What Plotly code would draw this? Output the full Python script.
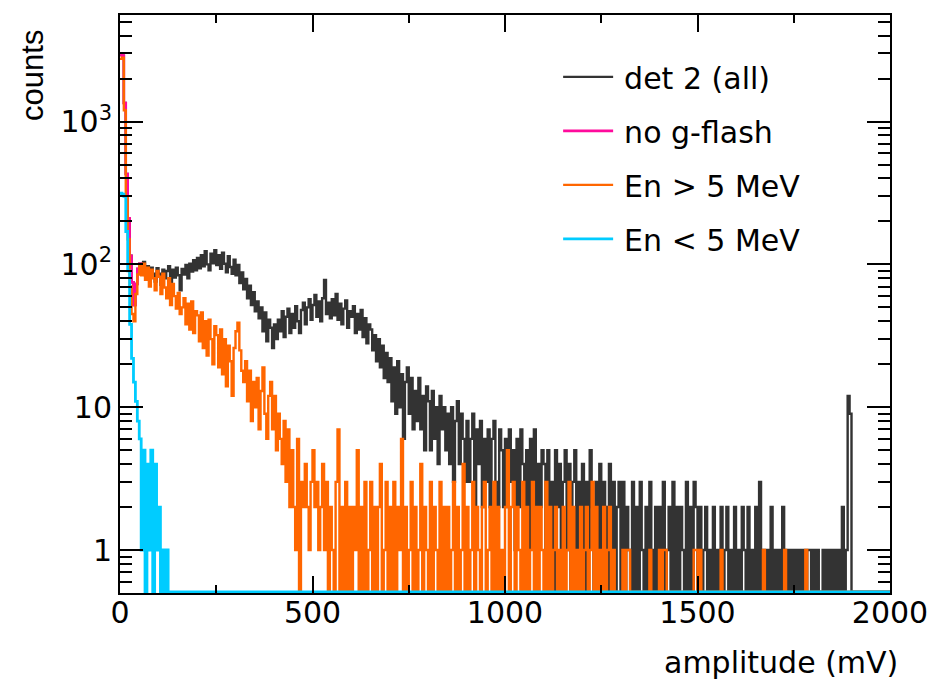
import math
import plotly.graph_objects as go

# ---------------- data (5 mV bins, 0 .. 2000 mV) ----------------
BIN_MV = 5

det2_all = [
    2950, 2900, 1350, 430, 210, 115, 75, 52, 73, 93,
    101, 95, 104, 84, 97, 79, 95, 86, 76, 94,
    86, 72, 92, 80, 90, 97, 74, 92, 81, 95,
    84, 66, 93, 85, 99, 80, 101, 89, 107, 91,
    111, 94, 116, 97, 124, 100, 91, 119, 102, 126,
    99, 116, 93, 121, 101, 88, 114, 96, 86, 108,
    84, 99, 74, 88, 67, 79, 58, 71, 52, 64,
    47, 55, 42, 50, 34, 46, 29, 41, 36, 26,
    38, 30, 41, 34, 47, 31, 43, 49, 33, 45,
    36, 51, 40, 33, 48, 54, 38, 50, 57, 41,
    52, 61, 43, 55, 40, 58, 78, 45, 54, 42,
    57, 44, 62, 41, 53, 38, 49, 56, 36, 47,
    43, 51, 33, 45, 35, 48, 31, 42, 28, 38,
    35, 25, 32, 21, 30, 19, 27, 16, 24, 15,
    22, 11, 19, 9, 21, 10, 17, 6, 15, 19,
    9, 16, 7, 13, 8, 16, 7, 12, 5, 14,
    11, 5, 13, 6, 10, 4, 12, 7, 10, 5,
    9, 4, 10, 3, 8, 11, 4, 9, 6, 3,
    8, 3, 6, 9, 2, 7, 4, 8, 2, 6,
    3, 7, 2, 6, 8, 3, 2, 7, 5, 2,
    6, 2, 7, 3, 5, 1, 6, 2, 7, 4,
    2, 5, 1, 6, 3, 7, 1, 4, 2, 5,
    4, 1, 5, 2, 3, 0, 5, 2, 4, 1,
    3, 5, 1, 4, 0, 3, 5, 1, 3, 2,
    4, 0, 3, 1, 5, 2, 0, 3, 1, 4,
    0, 3, 2, 0, 4, 1, 3, 0, 2, 3,
    0, 3, 0, 2, 1, 0, 3, 0, 2, 0,
    3, 1, 0, 2, 0, 3, 1, 0, 2, 0,
    2, 0, 3, 0, 1, 2, 0, 3, 0, 2,
    0, 2, 1, 0, 3, 0, 2, 0, 3, 2,
    0, 2, 0, 1, 2, 0, 1, 0, 2, 0,
    1, 0, 2, 0, 1, 2, 0, 1, 0, 2,
    0, 1, 0, 2, 1, 0, 2, 0, 1, 0,
    2, 0, 3, 0, 1, 0, 1, 0, 2, 0,
    1, 0, 1, 0, 2, 1, 0, 1, 0, 1,
    0, 1, 0, 1, 0, 1, 0, 1, 1, 0,
    1, 0, 1, 0, 0, 1, 0, 1, 0, 1,
    0, 1, 0, 1, 0, 2, 0, 1, 12, 9,
    0, 0, 0, 0, 0, 0, 0, 0, 0, 0,
    0, 0, 0, 0, 0, 0, 0, 0, 0, 0,
]

no_gflash = [2950, 2900, 1350, 430, 210, 115, 75, 52, 73, 93, 101, 95]

en_above_5 = [
    2750, 2800, 1200, 300, 150, 70, 45, 40, 62, 85,
    97, 84, 101, 78, 95, 70, 92, 80, 66, 90,
    82, 62, 86, 69, 58, 80, 52, 73, 60, 49,
    63, 45, 50, 58, 38, 53, 35, 55, 33, 47,
    44, 29, 46, 26, 40, 23, 41, 30, 20, 37,
    32, 19, 35, 17, 30, 14, 27, 21, 12, 26,
    34, 39, 25, 18, 15, 21, 11, 18, 8, 15,
    10, 16, 7, 13, 19, 9, 6, 12, 15, 7,
    12, 5, 9, 6, 4, 8, 3, 7, 2, 5,
    2, 1, 6, 0, 3, 2, 4, 2, 1, 3,
    5, 2, 3, 1, 2, 4, 1, 3, 0, 2,
    1, 0, 3, 7, 0, 2, 0, 3, 0, 2,
    0, 2, 1, 5, 0, 2, 0, 3, 0, 1,
    3, 0, 2, 0, 2, 4, 0, 1, 3, 0,
    2, 0, 3, 0, 2, 1, 6, 0, 2, 0,
    1, 3, 0, 2, 0, 1, 4, 0, 2, 1,
    0, 3, 0, 2, 1, 0, 3, 0, 2, 0,
    2, 0, 1, 3, 0, 2, 0, 1, 4, 0,
    2, 0, 1, 3, 0, 2, 1, 0, 2, 3,
    0, 1, 2, 0, 3, 0, 2, 0, 1, 0,
    2, 5, 0, 2, 3, 0, 2, 1, 0, 3,
    0, 2, 0, 1, 3, 0, 2, 0, 2, 1,
    0, 3, 0, 2, 0, 1, 2, 0, 1, 0,
    2, 0, 1, 3, 0, 2, 0, 1, 0, 2,
    0, 1, 2, 0, 1, 3, 0, 2, 0, 1,
    0, 2, 0, 1, 2, 0, 1, 0, 0, 0,
    0, 1, 0, 1, 1, 0, 0, 0, 0, 0,
    0, 0, 0, 0, 0, 1, 0, 0, 0, 0,
    1, 0, 1, 1, 0, 0, 0, 0, 0, 0,
    0, 0, 0, 0, 0, 0, 0, 0, 1, 1,
    0, 1, 0, 0, 0, 0, 0, 0, 0, 0,
    0, 0, 1, 0, 0, 0, 0, 0, 0, 0,
    0, 0, 0, 0, 0, 0, 0, 0, 0, 0,
    0, 0, 0, 0, 1, 0, 0, 0, 0, 0,
    0, 0, 0, 0, 0, 1, 0, 0, 0, 0,
    0, 0, 0, 0, 0, 0, 1, 0, 0, 0,
    0, 0, 0, 0, 0, 0, 0, 0, 0, 0,
    0, 0, 0, 0, 0, 0, 0, 0, 0, 0,
    0, 0, 0, 0, 0, 0, 0, 0, 0, 0,
    0, 0, 0, 0, 0, 0, 0, 0, 0, 0,
]

en_below_5 = [
    315, 310, 300, 170, 90, 38, 22, 15, 11, 8,
    6, 1, 5, 0, 4, 1, 5, 0, 4, 1,
    2, 0, 1, 0, 1,
] + [0] * 375

x_ticks = [0, 500, 1000, 1500, 2000]
y_ticks = [1, 10, 100, 1000]
y_ticktext = ["1", "10", "10<sup>2</sup>", "10<sup>3</sup>"]
y_minor = [0.6, 0.7, 0.8, 0.9, 2, 3, 4, 5, 6, 7, 8, 9,
           20, 30, 40, 50, 60, 70, 80, 90,
           200, 300, 400, 500, 600, 700, 800, 900,
           2000, 3000, 4000, 5000]

Y_MIN, Y_MAX = 0.5, 5580.0
# empty bins are drawn along the bottom of the frame (ROOT style)
FLOOR = 10 ** (math.log10(Y_MIN) + 1.2 / 143.3)

FONT = "DejaVu Sans, sans-serif"
FONT2 = "Liberation Sans, Arial, sans-serif"
FS = 30


def step_xy(vals):
    xs = [i * BIN_MV for i in range(len(vals))] + [len(vals) * BIN_MV]
    ys = [v if v > 0 else FLOOR for v in vals]
    ys = ys + [ys[-1]]
    return xs, ys


series = [
    ("det 2 (all)", det2_all, "#333333", 2.4),
    ("no g-flash", no_gflash, "#ff0a9c", 2.6),
    ("En > 5 MeV", en_above_5, "#ff6600", 2.4),
    ("En < 5 MeV", en_below_5, "#00ccff", 2.8),
]

fig = go.Figure()
for i, (name, vals, color, w) in enumerate(series):
    xs, ys = step_xy(vals)
    fig.add_trace(go.Scatter(
        x=xs, y=ys, mode="lines", name="\u2009" + name, legendgroup=f"g{i}",
        line=dict(color=color, width=w, shape="hv", simplify=False),
        hoverinfo="skip",
    ))

fig.update_layout(
    width=927, height=671, autosize=False,
    margin=dict(l=112, r=45, t=5, b=86),
    paper_bgcolor="white", plot_bgcolor="white",
    font=dict(family=FONT, size=FS, color="black"),
    showlegend=True,
    legend=dict(
        x=0.569, y=0.938, xanchor="left", yanchor="top",
        font=dict(size=FS, family=FONT, color="black"),
        bgcolor="rgba(0,0,0,0)", borderwidth=0,
        tracegroupgap=12, itemwidth=50,
    ),
    xaxis=dict(
        range=[0, 2000], tickvals=x_ticks, ticks="inside", ticklen=17,
        tickwidth=2, tickcolor="black", showline=True, linewidth=2,
        linecolor="black", mirror="ticks", showgrid=False, zeroline=False,
        tickfont=dict(size=FS, family=FONT), ticklabelstandoff=-8,
        minor=dict(dtick=250, tick0=0, ticks="inside", ticklen=8,
                   tickwidth=2, tickcolor="black", showgrid=False),
    ),
    yaxis=dict(
        type="log", range=[math.log10(Y_MIN), math.log10(Y_MAX)],
        tickvals=y_ticks, ticktext=y_ticktext, ticks="inside", ticklen=23,
        tickwidth=2, tickcolor="black", showline=True, linewidth=2,
        linecolor="black", mirror="ticks", showgrid=False, zeroline=False,
        tickfont=dict(size=FS, family=FONT),
        minor=dict(tickvals=y_minor, ticks="inside", ticklen=12,
                   tickwidth=2, tickcolor="black", showgrid=False),
    ),
    annotations=[
        dict(text="counts", xref="paper", yref="paper", x=-0.114, y=0.895,
             xanchor="center", yanchor="middle", textangle=-90,
             showarrow=False, font=dict(size=31, family=FONT2)),
        dict(text="amplitude (mV)", xref="paper", yref="paper", x=1.013,
             y=-0.12, xanchor="right", yanchor="middle",
             showarrow=False, font=dict(size=FS, family=FONT)),
    ],
)

fig.write_html("out.html")
